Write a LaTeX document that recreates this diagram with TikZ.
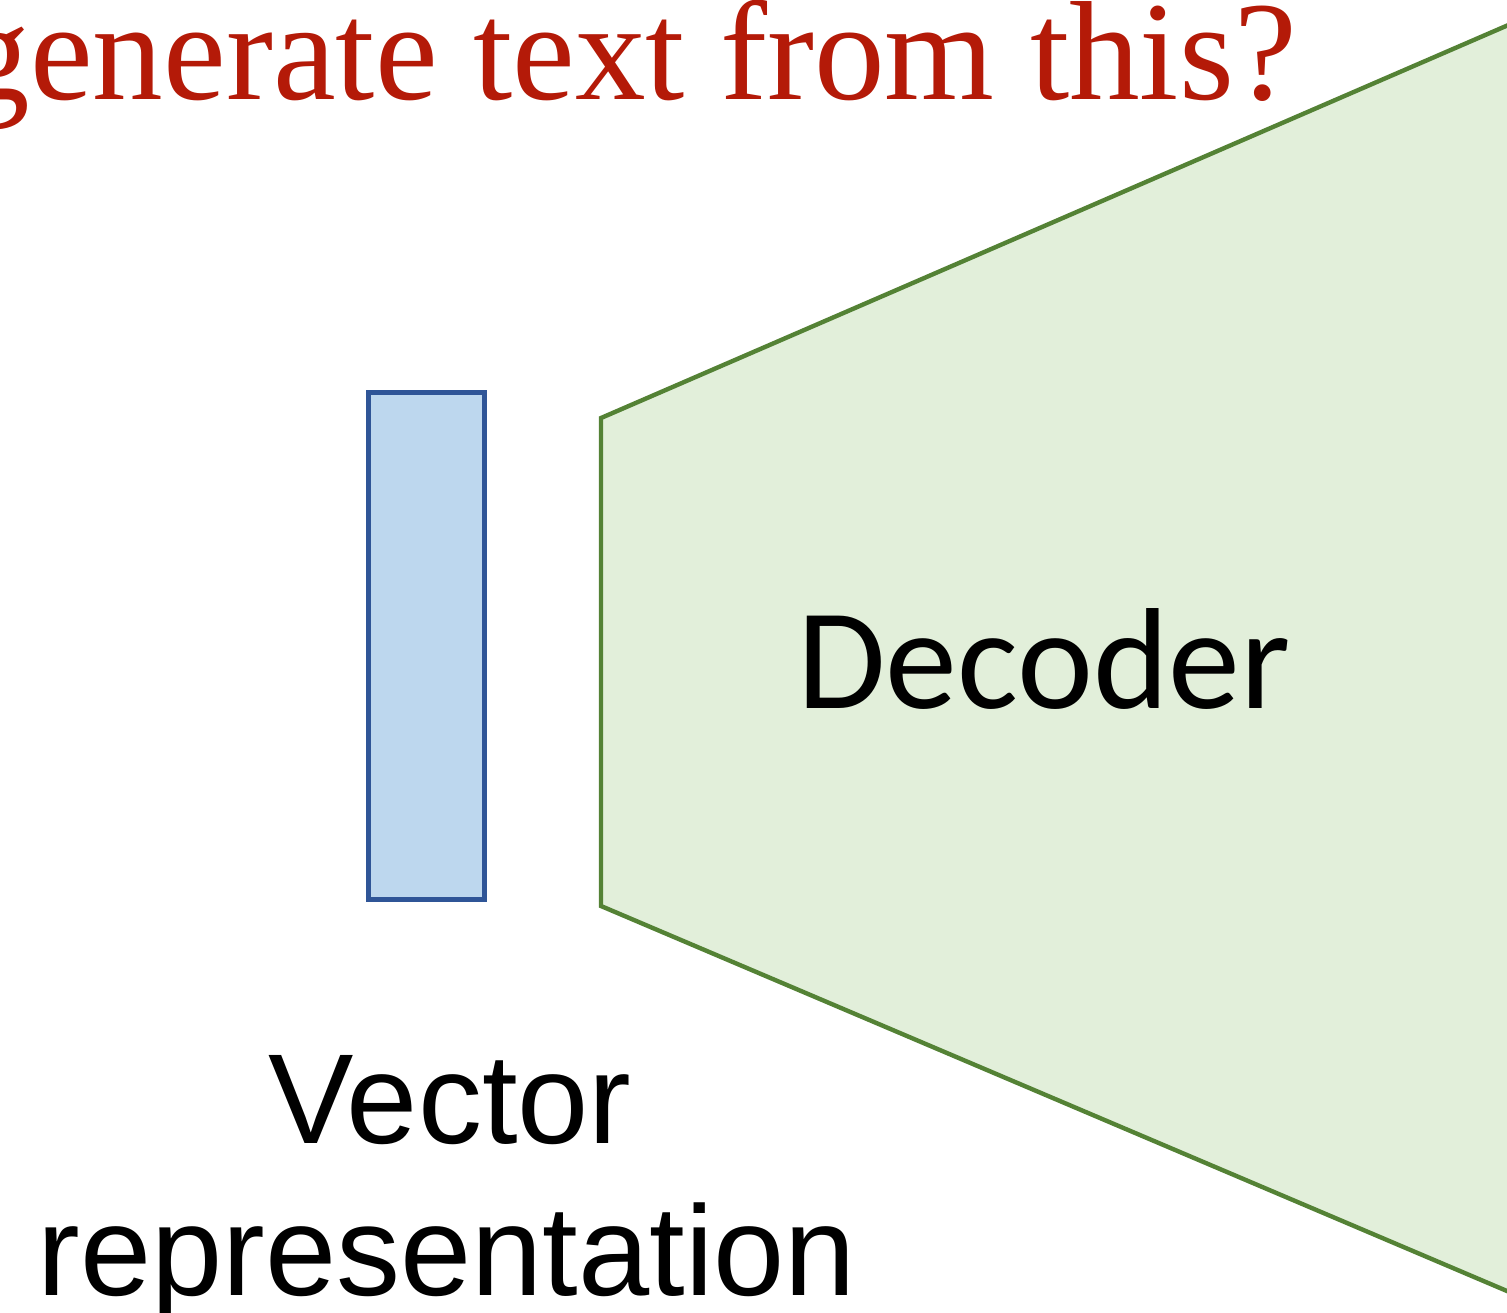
\documentclass[tikz,border=0pt]{standalone}
\usepackage{fontspec}
\setmainfont{Liberation Serif}
\newfontfamily\decfont{Carlito}
\newfontfamily\labfont{Liberation Sans}
\definecolor{titlered}{RGB}{180,26,8}
\definecolor{vecfill}{HTML}{BDD7EE}
\definecolor{vecline}{HTML}{2F5597}
\definecolor{decfill}{HTML}{E2EFDA}
\definecolor{decline}{HTML}{548235}
\begin{document}
\begin{tikzpicture}[x=0.5pt,y=-0.5pt,
  vecbox/.style={draw=vecline, fill=vecfill, line width=2.5pt,
    minimum width=58pt, minimum height=253.5pt, inner sep=0pt},
  decshape/.style={draw=decline, fill=decfill, line width=2.2pt, line join=miter},
  titletext/.style={text=titlered, font=\fontsize{70.6}{80}\selectfont, inner sep=0pt},
  dectext/.style={font=\decfont\fontsize{72}{80}\selectfont, inner sep=0pt},
  labtext/.style={font=\labfont\fontsize{64}{76}\selectfont, inner sep=0pt}]
  \useasboundingbox (0,0) rectangle (1507,1312);
  \clip (0,0) rectangle (1507,1312);

  % decoder trapezoid, widening to the right past the frame
  \coordinate (dtl) at (601,418);
  \coordinate (dbl) at (601,906);
  \coordinate (dtr) at (1700,-58);
  \coordinate (dbr) at (1700,1373);
  \draw[decshape] (dtl) -- (dtr) -- (dbr) -- (dbl) -- cycle;
  \node[dectext, anchor=base] (dec) at (1044,708) {Decoder};

  % encoded vector
  \node[vecbox] (vec) at (426.5,646) {};
  \node[labtext, anchor=base] (veclab) at (450,1143) {Vector};
  \node[labtext, anchor=base] (replab) at (447,1295) {representation};

  % question heading
  \node[titletext, anchor=base east] (title) at (1297,99) {generate text from this?};
\end{tikzpicture}
\end{document}
